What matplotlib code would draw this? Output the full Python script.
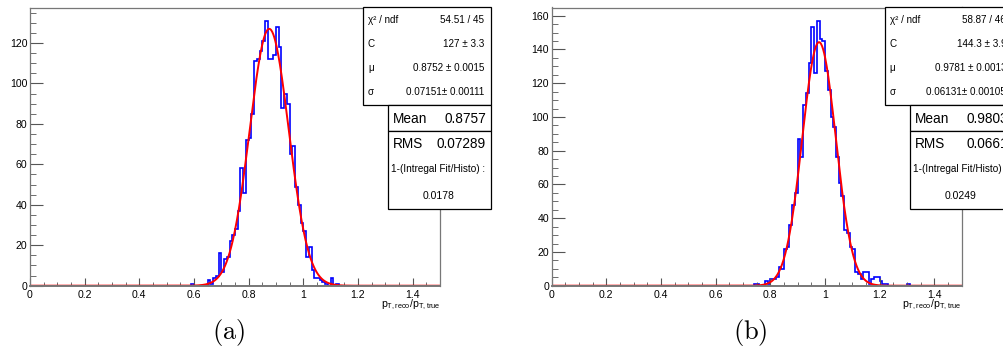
import numpy as np
import matplotlib.pyplot as plt
from matplotlib.patches import Rectangle
from matplotlib.ticker import MultipleLocator, FormatStrFormatter

plt.rcParams['font.family'] = ['Liberation Sans', 'DejaVu Sans']
plt.rcParams['mathtext.fontset'] = 'cm'

# histogram: 150 bins from 0 to 1.5, counts given from a first filled bin on
n_bins = 150
x_min, x_max = 0.0, 1.5

first_bin_a = 59
counts_a = [1, 0, 0, 0, 0, 0, 3, 1, 4, 5, 16, 7, 13, 14, 22, 25, 28, 37, 58, 46,
            72, 73, 85, 111, 112, 116, 121, 131, 112, 112, 114, 128, 118, 88, 95, 90,
            65, 69, 49, 40, 31, 27, 14, 19, 8, 4, 4, 3, 2, 1, 0, 4, 0, 1]

first_bin_b = 74
counts_b = [1, 1, 0, 0, 3, 1, 4, 4, 5, 11, 10, 22, 23, 36, 48, 55, 87, 76, 107, 114,
            132, 153, 126, 157, 146, 145, 127, 116, 100, 94, 76, 61, 53, 33, 31, 23,
            22, 8, 7, 4, 8, 8, 1, 4, 5, 5, 3, 1, 1, 0, 0, 0, 0, 0, 0, 0, 1]

# gaussian fit parameters (C, mu, sigma)
fit_a = (127.0, 0.8752, 0.07151)
fit_b = (144.3, 0.9781, 0.06131)

# stat box texts
fit_rows_a = [("χ² / ndf", "54.51 / 45"), ("C", "127 ± 3.3"),
              ("μ", "0.8752 ± 0.0015"), ("σ", "0.07151± 0.00111")]
fit_rows_b = [("χ² / ndf", "58.87 / 46"), ("C", "144.3 ± 3.9"),
              ("μ", "0.9781 ± 0.0013"), ("σ", "0.06131± 0.00105")]
mean_a, rms_a, frac_a = "0.8757", "0.07289", "0.0178"
mean_b, rms_b, frac_b = "0.9803", "0.0661", "0.0249"

W, H = 1004, 350
fig = plt.figure(figsize=(W / 100, H / 100), dpi=100)


def fx(px):
    return px / W


def fy(py):
    return 1 - py / H


def panel(x0, first_bin, counts, fit, rows, mean, rms, frac, label):
    ax = fig.add_axes([fx(x0), fy(285.7), fx(410), (285.7 - 7.5) / H])
    edges = np.linspace(x_min, x_max, n_bins + 1)
    h = np.zeros(n_bins)
    h[first_bin:first_bin + len(counts)] = counts
    ax.stairs(h, edges, color='#0000ff', lw=1.2, baseline=0)
    xs = np.linspace(x_min, x_max, 800)
    c, mu, sg = fit
    ax.plot(xs, c * np.exp(-0.5 * ((xs - mu) / sg) ** 2), color='#ff0000', lw=1.4)
    ax.set_xlim(x_min, x_max)
    ax.set_ylim(0, 1.05 * max(counts))

    ax.xaxis.set_major_locator(MultipleLocator(0.2))
    ax.xaxis.set_minor_locator(MultipleLocator(0.05))
    ax.yaxis.set_major_locator(MultipleLocator(20))
    ax.yaxis.set_minor_locator(MultipleLocator(5))
    ax.xaxis.set_major_formatter(FormatStrFormatter('%g'))
    ax.tick_params(axis='both', which='both', direction='in', color='#555555',
                   labelsize=7.6, top=False, right=False)
    ax.tick_params(axis='y', which='major', length=9, pad=2)
    ax.tick_params(axis='y', which='minor', length=4.5)
    ax.tick_params(axis='x', which='major', length=6, pad=3)
    ax.tick_params(axis='x', which='minor', length=3)
    for s in ax.spines.values():
        s.set_color('#777777')
        s.set_linewidth(0.9)
    ax.spines['bottom'].set_linewidth(1.4)

    fig.text(fx(x0 + 410), fy(298), r'$\mathregular{p_{T,reco}/p_{T,true}}$',
             ha='right', va='top', fontsize=7.6)
    fig.text(fx(x0 + 199), fy(332), r'$\mathrm{(%s)}$' % label,
             ha='center', va='center', fontsize=19)

    # stat boxes
    bx = x0 + 333
    for (l, t, r, b) in [(bx, 7.5, bx + 128, 105.3),
                         (bx + 25.3, 105.3, bx + 128, 131),
                         (bx + 25.3, 131, bx + 128, 209.3)]:
        fig.patches.append(Rectangle((fx(l), fy(b)), fx(r - l), (b - t) / H,
                                     transform=fig.transFigure, facecolor='white',
                                     edgecolor='black', lw=0.9, zorder=5))
    for i, (k, v) in enumerate(rows):
        y = [20, 44, 68, 92.3][i]
        fig.text(fx(bx + 5), fy(y), k, ha='left', va='center', fontsize=7.1, zorder=6)
        fig.text(fx(bx + 121.5), fy(y), v, ha='right', va='center', fontsize=7.1, zorder=6)
    fig.text(fx(bx + 30), fy(119), "Mean", ha='left', va='center', fontsize=9.8, zorder=6)
    fig.text(fx(bx + 123), fy(119), mean, ha='right', va='center', fontsize=9.8, zorder=6)
    fig.text(fx(bx + 30), fy(144.3), "RMS", ha='left', va='center', fontsize=9.8, zorder=6)
    fig.text(fx(bx + 123), fy(144.3), rms, ha='right', va='center', fontsize=9.8, zorder=6)
    fig.text(fx(bx + 75), fy(169.3), "1-(Intregal Fit/Histo) :", ha='center', va='center',
             fontsize=7.2, zorder=6)
    fig.text(fx(bx + 75.7), fy(196), frac, ha='center', va='center', fontsize=7.5, zorder=6)
    return ax


panel(30, first_bin_a, counts_a, fit_a, fit_rows_a, mean_a, rms_a, frac_a, 'a')
panel(551.7, first_bin_b, counts_b, fit_b, fit_rows_b, mean_b, rms_b, frac_b, 'b')

fig.savefig("out.png", dpi=100)
